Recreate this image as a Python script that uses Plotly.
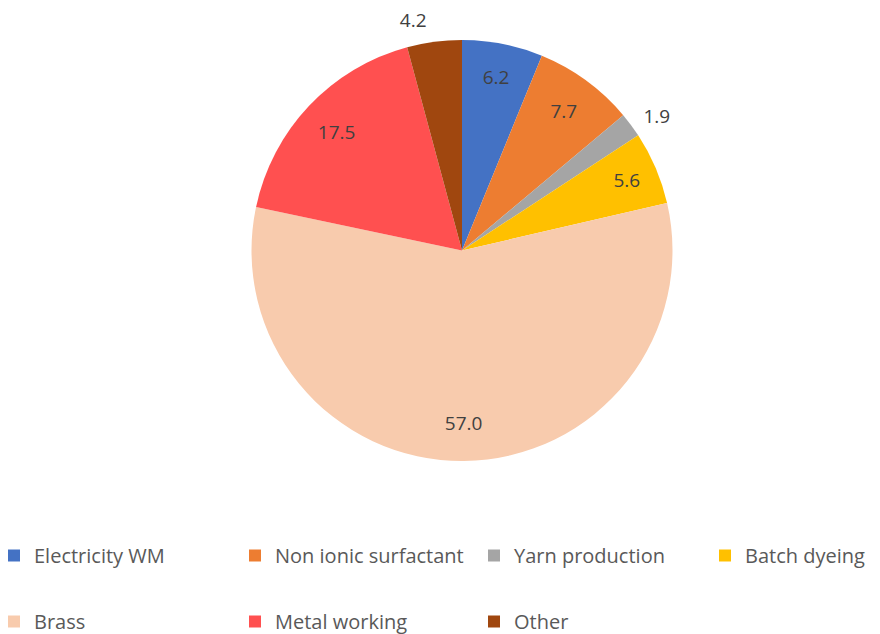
import plotly.graph_objects as go

labels = ["Electricity WM", "Non ionic surfactant", "Yarn production", "Batch dyeing",
          "Brass", "Metal working", "Other"]
values = [6.2, 7.7, 1.9, 5.6, 57.0, 17.5, 4.2]
colors = ["#4472C4", "#ED7D31", "#A5A5A5", "#FFC000", "#F8CBAD", "#FF5050", "#A0470F"]
text_pos = ["inside", "inside", "outside", "inside", "inside", "inside", "outside"]
label_pull = [0, 0, 0.035, 0, 0, 0, 0.045]

# legend columns (row 1 / row 2)
legend_cols = [["Electricity WM", "Brass"], ["Non ionic surfactant", "Metal working"],
               ["Yarn production", "Other"], ["Batch dyeing"]]
legend_x = [-14, 227, 466, 697]

FONT = "Open Sans, Liberation Sans, Arial, sans-serif"
# the page body has an 8px margin, so the figure is drawn 8px in from the corner
W, H = 872, 626
CX, CY, R = 454, 242.5, 210.5


def pie_domain(r):
    return dict(x=[(CX - r) / W, (CX + r) / W], y=[1 - (CY + r) / H, 1 - (CY - r) / H])


fig = go.Figure()
# coloured slices
fig.add_trace(go.Pie(
    labels=labels, values=values,
    marker=dict(colors=colors, line=dict(width=0)),
    sort=False, direction="clockwise", rotation=0,
    textinfo="none", domain=pie_domain(R),
    showlegend=False, hoverinfo="label+value",
))
# transparent ring on top, only to push the data labels outwards like Excel
mp = max(label_pull)
fig.add_trace(go.Pie(
    labels=labels, values=values, hole=0.64, pull=label_pull,
    marker=dict(colors=["rgba(0,0,0,0)"] * len(values), line=dict(width=0)),
    sort=False, direction="clockwise", rotation=0,
    texttemplate="%{value:.1f}",
    textposition=text_pos,
    insidetextorientation="horizontal",
    textfont=dict(size=19, color="#404040", family=FONT),
    domain=pie_domain(R * (1 + mp)), showlegend=False, hoverinfo="skip",
))

for ci, col in enumerate(legend_cols):
    lname = "legend" if ci == 0 else f"legend{ci + 1}"
    for name in col:
        fig.add_trace(go.Scatter(
            x=[None], y=[None], mode="markers", name=name,
            marker=dict(symbol="square", size=12, color=colors[labels.index(name)]),
            legend=lname, legendgroup=name,
        ))

layout = dict(
    width=W, height=H,
    paper_bgcolor="white", plot_bgcolor="white",
    margin=dict(l=0, r=0, t=0, b=0, autoexpand=False),
    xaxis=dict(visible=False), yaxis=dict(visible=False),
    font=dict(family=FONT, color="#595959"),
)
for ci, lx in enumerate(legend_x):
    lname = "legend" if ci == 0 else f"legend{ci + 1}"
    layout[lname] = dict(
        x=lx / W, xanchor="left", y=1 - 528 / H, yanchor="top",
        orientation="v", traceorder="grouped", tracegroupgap=37,
        font=dict(size=20, color="#595959", family=FONT),
        bgcolor="rgba(0,0,0,0)",
    )
fig.update_layout(**layout)

fig.write_html("out.html")
